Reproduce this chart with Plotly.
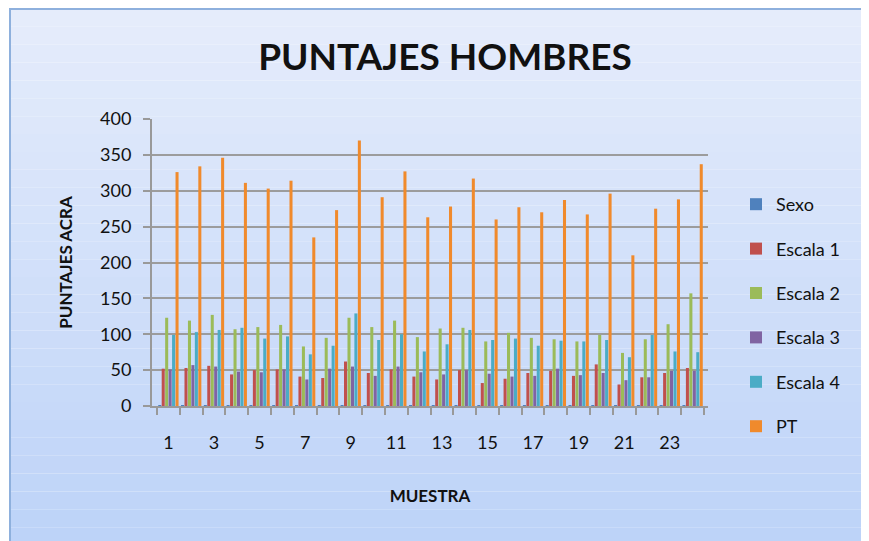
import plotly.graph_objects as go

muestra = list(range(1, 25))
sexo = [1] * 24
escala1 = [52, 53, 56, 44, 50, 51, 41, 39, 62, 46, 51, 41, 37, 50, 32, 38, 46, 49, 42, 58, 30, 40, 46, 53]
escala2 = [123, 119, 127, 107, 110, 113, 83, 95, 123, 110, 119, 96, 108, 109, 90, 102, 95, 93, 90, 99, 74, 93, 114, 157]
escala3 = [51, 57, 55, 48, 47, 51, 37, 52, 55, 42, 55, 47, 44, 50, 45, 41, 42, 52, 43, 46, 36, 40, 49, 49]
escala4 = [99, 103, 106, 109, 94, 97, 72, 84, 129, 92, 100, 76, 86, 106, 92, 94, 84, 91, 90, 92, 68, 99, 76, 75]
pt = [326, 334, 346, 311, 303, 314, 235, 273, 370, 291, 327, 263, 278, 317, 260, 277, 270, 287, 267, 296, 210, 275, 288, 337]

series = [
    ("Sexo", sexo, "#4F81BD"),
    ("Escala 1", escala1, "#C0504D"),
    ("Escala 2", escala2, "#9BBB59"),
    ("Escala 3", escala3, "#8064A2"),
    ("Escala 4", escala4, "#4BACC6"),
    ("PT", pt, "#F08A2C"),
]

# page body margin offsets the figure by 8px
OFF = 8
W, H = 861, 533
L, R, T, B = 144, 161, 111, 135
pw, ph = W - L - R, H - T - B

def px_x(x):  # screen x -> paper
    return (x - OFF - L) / pw

def px_y(y):  # screen y -> paper
    return (H - B - (y - OFF)) / ph

# category floor spans screen x 157..704 within a 152..708 plot area
unit = (704 - 157) / 24.0
x_lo = 0.5 - (157 - 152) / unit
x_hi = 24.5 + (708 - 704) / unit

FONT = "Lato, 'Open Sans', sans-serif"

fig = go.Figure()
for name, vals, col in series:
    fig.add_trace(go.Bar(x=muestra, y=vals, name=name, legendgroup=name,
                         marker=dict(color=col, line=dict(width=0))))

shapes = []
top_c = (229, 236, 251)
bot_c = (189, 211, 248)
n = 30
y0p, y1p = 9, 545
for i in range(n):
    a = y0p + (y1p - y0p) * i / n
    b = y0p + (y1p - y0p) * (i + 1) / n
    t = i / (n - 1)
    c = tuple(int(round(top_c[k] + (bot_c[k] - top_c[k]) * t)) for k in range(3))
    shapes.append(dict(type="rect", xref="paper", yref="paper", layer="below",
                       x0=px_x(10), x1=px_x(875), y0=px_y(b), y1=px_y(a),
                       fillcolor="rgb(%d,%d,%d)" % c, line=dict(width=0)))
shapes.append(dict(type="rect", xref="paper", yref="paper", layer="below",
                   x0=px_x(10), x1=px_x(866), y0=px_y(H + 20), y1=px_y(9),
                   fillcolor="rgba(0,0,0,0)", line=dict(color="#8EB0DD", width=2)))

fig.update_layout(
    width=W, height=H,
    margin=dict(l=L, r=R, t=T, b=B, autoexpand=False),
    paper_bgcolor="white",
    plot_bgcolor="rgba(0,0,0,0)",
    barmode="group",
    bargap=0.09,
    bargroupgap=0.12,
    shapes=shapes,
    font=dict(family=FONT, color="#111111", size=18),
    title=dict(text="<b>PUNTAJES HOMBRES</b>", x=(445 - OFF) / W, xref="container",
               xanchor="center", y=1 - (57 - OFF) / H, yanchor="middle",
               font=dict(family=FONT, size=37, color="#111111")),
    legend=dict(x=px_x(736), xanchor="left", y=px_y(186), yanchor="top",
                bgcolor="rgba(0,0,0,0)", tracegroupgap=18,
                font=dict(family=FONT, size=18, color="#111111"),
                itemwidth=30),
    xaxis=dict(range=[x_lo, x_hi], tickmode="array", tickvals=list(range(1, 25, 2)),
               ticks="", showgrid=False, showline=True, linecolor="#999999", linewidth=2,
               ticklabelstandoff=19, tickfont=dict(size=18), automargin=False,
               minor=dict(tickvals=[i + 0.5 for i in range(0, 25)], ticks="outside",
                          ticklen=7, tickcolor="#999999", tickwidth=2, showgrid=False),
               title=dict(text="<b>MUESTRA</b>", standoff=39, font=dict(size=17)),
               zeroline=False),
    yaxis=dict(range=[0, 400], dtick=50, ticks="outside", ticklen=7, tickcolor="#999999",
               tickwidth=2, showgrid=True, gridcolor="#9c9c9c", gridwidth=2,
               showline=True, linecolor="#999999", linewidth=2, zeroline=False,
               tickfont=dict(size=18), ticklabelstandoff=8, automargin=False,
               title=dict(text="<b>PUNTAJES ACRA</b>", standoff=23, font=dict(size=17))),
)

fig.write_html("out.html")
